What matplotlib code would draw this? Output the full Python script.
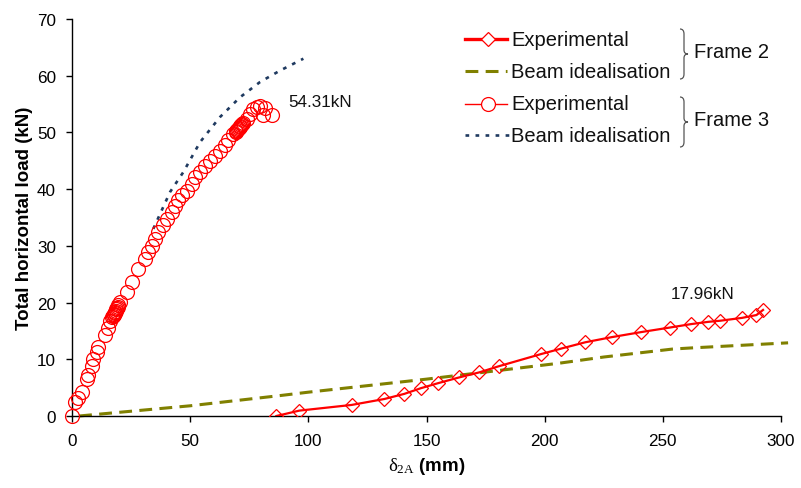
import matplotlib
matplotlib.use("Agg")
import matplotlib.pyplot as plt
from matplotlib.lines import Line2D
from matplotlib.path import Path
from matplotlib.patches import PathPatch

plt.rcParams['font.family'] = ['Liberation Sans', 'DejaVu Sans']
plt.rcParams['mathtext.fontset'] = 'custom'
plt.rcParams['mathtext.rm'] = 'Liberation Serif'
plt.rcParams['mathtext.it'] = 'Liberation Serif:italic'

# ---------------- data ----------------
# Frame 2 - experimental
f2_exp_x = [86.5, 96.2, 118.3, 132.2, 140.6, 147.6, 155.0, 163.8, 172.4, 180.8, 198.3, 207.1,
            217.2, 228.3, 240.9, 253.0, 261.9, 269.2, 274.3, 283.5, 289.6, 292.4]
f2_exp_y = [0.0, 0.95, 1.95, 3.0, 3.9, 4.9, 5.8, 6.8, 7.7, 8.8, 10.9, 11.9,
            13.0, 13.9, 14.8, 15.6, 16.2, 16.6, 16.8, 17.3, 17.8, 18.7]

# Frame 2 - beam idealisation
f2_beam_x = [3, 50, 88, 100, 150, 180, 206, 225, 254, 262, 303]
f2_beam_y = [0.0, 1.8, 3.6, 4.2, 6.5, 8.0, 9.3, 10.4, 11.8, 12.0, 12.9]

# Frame 3 - experimental
f3_exp_x = [0.0, 1.3, 2.5, 4.1, 6.2, 6.8, 8.3, 9.0, 10.4, 11.1, 14.0, 15.4, 16.1, 17.0, 17.3,
            17.6, 17.9, 18.1, 18.3, 18.5, 18.7, 19.0, 19.3, 19.6, 20.3, 23.1, 25.3, 28.1, 30.9,
            32.3, 33.7, 35.1, 36.5, 38.6, 40.1, 42.2, 43.6, 45.0, 46.4, 48.5, 50.7, 52.1, 54.2,
            56.3, 58.4, 60.5, 62.6, 64.7, 66.2, 68.3, 69.2, 69.6, 70.0, 70.3, 70.6, 70.9, 71.2,
            71.5, 71.9, 72.5, 73.9, 75.3, 76.7, 78.3, 79.6, 81.7, 80.9, 84.5]
f3_exp_y = [0.0, 2.4, 3.2, 4.2, 6.5, 7.2, 8.9, 10.0, 11.2, 12.1, 14.2, 15.6, 16.8, 17.4, 17.6,
            17.8, 18.0, 18.2, 18.4, 18.6, 18.8, 19.0, 19.2, 19.5, 20.1, 21.8, 23.6, 25.9, 27.7,
            28.9, 30.0, 31.2, 32.4, 33.6, 34.7, 35.9, 37.1, 38.0, 38.9, 39.7, 40.9, 42.1, 43.0,
            44.1, 45.0, 45.9, 46.8, 47.7, 48.6, 49.7, 50.0, 50.2, 50.4, 50.6, 50.8, 51.0, 51.2,
            51.3, 51.5, 51.6, 52.4, 53.3, 54.1, 54.5, 54.6, 54.3, 53.0, 53.0]

# Frame 3 - beam idealisation
f3_beam_x = [34.4, 41.5, 47.1, 54.2, 62.6, 71.1, 79.6, 88.0, 97.9]
f3_beam_y = [33.0, 39.5, 43.0, 48.3, 52.7, 56.2, 58.9, 60.9, 63.0]

x_ticks = [0, 50, 100, 150, 200, 250, 300]
y_ticks = [0, 10, 20, 30, 40, 50, 60, 70]

legend_labels = ["Experimental", "Beam idealisation", "Experimental", "Beam idealisation"]
group_labels = ["Frame 2", "Frame 3"]
peak_labels = ["54.31kN", "17.96kN"]

RED = '#FF0000'
OLIVE = '#808000'
NAVY = '#1F3A60'

W, H = 801, 489
fig = plt.figure(figsize=(W / 100, H / 100), dpi=100)
L, R, T, B = 72, 781, 20, 417
ax = fig.add_axes([L / W, 1 - B / H, (R - L) / W, (B - T) / H])

ax.plot(f2_beam_x, f2_beam_y, color=OLIVE, lw=2.2, dashes=(4.2, 2.4), clip_on=False, zorder=2)
ax.plot(f3_beam_x, f3_beam_y, color=NAVY, lw=1.9, dashes=(1.4, 2.4), zorder=2)
ax.plot(f2_exp_x, f2_exp_y, color=RED, lw=1.6, marker='D', ms=7.1, mfc='none', mec=RED,
        mew=0.9, zorder=3)
ax.plot(f3_exp_x, f3_exp_y, ls='none', marker='o', ms=10, mfc='none', mec=RED, mew=0.9,
        zorder=4, clip_on=False)

ax.text(91.4, 55.4, peak_labels[0], fontsize=12.3, ha='left', va='center', color='#111111')
ax.text(253.5, 21.6, peak_labels[1], fontsize=12.3, ha='left', va='center', color='#111111')

ax.set_xlim(0, 300)
ax.set_ylim(0, 70)
ax.set_xticks(x_ticks)
ax.set_yticks(y_ticks)
for s in ['top', 'right']:
    ax.spines[s].set_visible(False)
for s in ['left', 'bottom']:
    ax.spines[s].set_linewidth(1.0)
ax.tick_params(axis='both', direction='out', length=4.5, width=1.0, labelsize=12.3,
               colors='black')
ax.tick_params(axis='x', pad=8)
ax.tick_params(axis='y', pad=7)

ax.set_ylabel("Total horizontal load (kN)", fontsize=13.5, fontweight='bold', labelpad=3)
ax.set_xlabel(r"$\mathrm{\delta_{2A}}$ (mm)", fontsize=13.5, fontweight='bold', labelpad=5)


def fx(px):
    return px / W


def fy(py):
    return 1 - py / H


# ---------- manual legend ----------
rows_y = [40, 72, 105, 136]
lx0, lx1, lxm = 465, 507, 488
tx = 511
LEG_FS = 14.5
fig.add_artist(Line2D([fx(lx0), fx(lx1)], [fy(rows_y[0])] * 2, color=RED, lw=2.4))
fig.add_artist(Line2D([fx(lxm)], [fy(rows_y[0])], marker='D', ms=7.1, mfc='white', mec=RED,
                      mew=0.9, ls='none'))
fig.add_artist(Line2D([fx(lx0), fx(lx1)], [fy(rows_y[1])] * 2, color=OLIVE, lw=2.2,
                      dashes=(4.2, 2.4)))
fig.add_artist(Line2D([fx(lx0), fx(lx1)], [fy(rows_y[2])] * 2, color=RED, lw=1.0))
fig.add_artist(Line2D([fx(lxm)], [fy(rows_y[2])], marker='o', ms=10, mfc='white', mec=RED,
                      mew=0.9, ls='none'))
fig.add_artist(Line2D([fx(lx0), fx(lx1 + 3)], [fy(rows_y[3])] * 2, color=NAVY, lw=1.9,
                      dashes=(1.4, 2.4)))
for yy, lab in zip(rows_y, legend_labels):
    fig.text(fx(tx), fy(yy), lab, fontsize=LEG_FS, ha='left', va='center', color='#111111')


def brace(x0, y0, y1):
    ym = (y0 + y1) / 2
    pts = [(x0, y0), (x0 + 4, y0), (x0 + 4, y0 + 5),
           (x0 + 4, ym - 4), (x0 + 4, ym), (x0 + 8, ym),
           (x0 + 4, ym), (x0 + 4, ym + 4),
           (x0 + 4, y1 - 5), (x0 + 4, y1), (x0, y1)]
    codes = [Path.MOVETO, Path.CURVE3, Path.CURVE3,
             Path.LINETO, Path.CURVE3, Path.CURVE3,
             Path.CURVE3, Path.CURVE3,
             Path.LINETO, Path.CURVE3, Path.CURVE3]
    p = Path([(fx(a), fy(b)) for a, b in pts], codes)
    fig.add_artist(PathPatch(p, transform=fig.transFigure, fill=False, ec='#555555', lw=0.9))


brace(680, 30, 80)
brace(680, 98, 148)
fig.text(fx(694), fy(53), group_labels[0], fontsize=LEG_FS, ha='left', va='center', color='#111111')
fig.text(fx(694), fy(121), group_labels[1], fontsize=LEG_FS, ha='left', va='center', color='#111111')

fig.savefig("out.png", dpi=100)
